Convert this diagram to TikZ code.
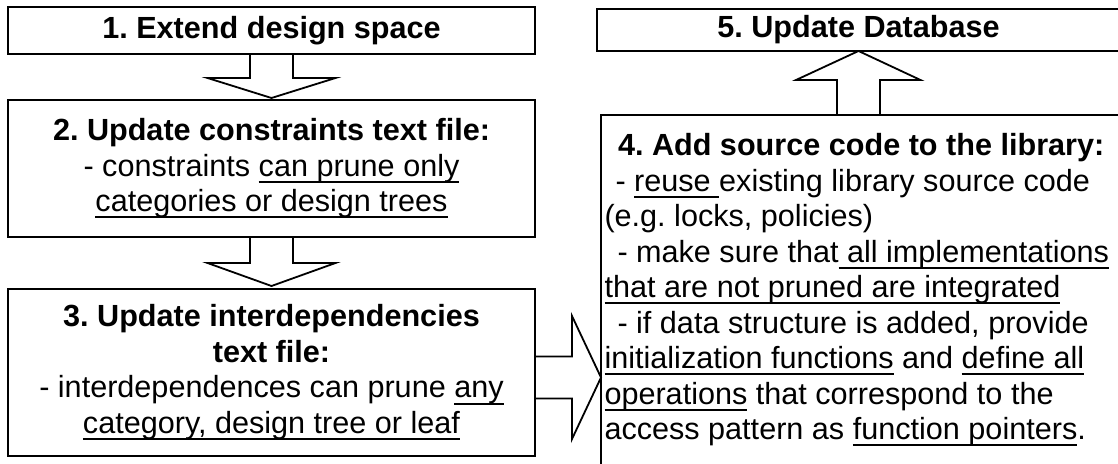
\documentclass[tikz,border=0pt]{standalone}
\usepackage{fontspec}
\setmainfont{Liberation Sans}
\usetikzlibrary{calc}
\frenchspacing
\newcommand\myul[1]{\setbox0\hbox{#1}\rlap{\rule[-0.22em]{\wd0}{0.065em}}\box0\relax}
\newcommand\txtfont{\fontsize{30.6}{35.5}\selectfont\frenchspacing}
\tikzset{
  box/.style={draw, line width=1.8pt, inner sep=0pt, outer sep=0pt, align=center, font=\txtfont},
  txt/.style={inner sep=0pt, outer sep=0pt, font=\txtfont},
  barrow/.style={draw, line width=1.8pt, line join=miter},
}
\begin{document}
\begin{tikzpicture}[x=1pt,y=-1pt]
\useasboundingbox (0,0) rectangle (1118,463);
\fill[white] (0,0) rectangle (1118,463);
\clip (0,0) rectangle (1118,463);
% left column
\node[box, minimum width=527pt, minimum height=47pt] (b1) at (271.5,30.5) {\bfseries 1. Extend design space};
\node[box, minimum width=527pt, minimum height=137pt] (b2) at (271.5,168.5)
  {\bfseries 2. Update constraints text file:\\
   - constraints \myul{can prune only}\\
   \myul{categories or design trees}};
\node[box, minimum width=527pt, minimum height=167pt] (b3) at (271.5,372.5)
  {\bfseries 3. Update interdependencies\\
   \bfseries text file:\\
   - interdependences can prune \myul{any}\\
   \myul{category, design tree or leaf}};
% right column
\node[box, minimum width=523pt, minimum height=42pt] (b5) at (858.5,30) {\bfseries 5. Update Database};
\node[box, minimum width=520pt, minimum height=360pt, anchor=north west] (b4) at (601,115) {};
\node[txt, anchor=base west] (t4) at (618,155) {\bfseries 4. Add source code to the library:};
\node[txt, anchor=north west, align=left] (d4) at (604.5,169)
  {\hspace*{11pt}- \myul{reuse }existing library source code\\
   (e.g. locks, policies)\\
   \hspace*{13pt}- make sure that\myul{ all implementations}\\
   \myul{that are not pruned are integrated}\\
   \hspace*{13pt}- if data structure is added, provide\\
   \myul{initialization functions} and \myul{define all}\\
   \myul{operations} that correspond to the\\
   access pattern as \myul{function pointers}.};
% block arrows
\draw[barrow] ($(b1.south)+(-21.5,0)$) -- ++(0,24) -- ++(-42.5,0) -- ($(b2.north)+(0,-2)$)
  -- ($(b1.south)+(64,24)$) -- ++(-42.5,0) -- ($(b1.south)+(21.5,0)$);
\draw[barrow] ($(b2.south)+(-21.5,0)$) -- ++(0,26) -- ++(-42.5,0) -- ($(b3.north)+(0,-3)$)
  -- ($(b2.south)+(64,26)$) -- ++(-42.5,0) -- ($(b2.south)+(21.5,0)$);
\coordinate (r) at ($(b3.east)+(0,5)$);
\coordinate (rt) at (b4.west |- r);
\draw[barrow] ($(r)+(0,-21)$) -- ++(37,0) -- ++(0,-40.5) -- (rt)
  -- ($(r)+(37,61.5)$) -- ++(0,-40.5) -- ($(r)+(0,21)$);
\coordinate (ub) at (b4.north -| b5.south);
\draw[barrow] ($(ub)+(-21.5,0)$) -- ++(0,-35) -- ++(-41,0) -- (b5.south)
  -- ($(ub)+(62,-35)$) -- ++(-40.5,0) -- ($(ub)+(21.5,0)$);
\end{tikzpicture}
\end{document}
